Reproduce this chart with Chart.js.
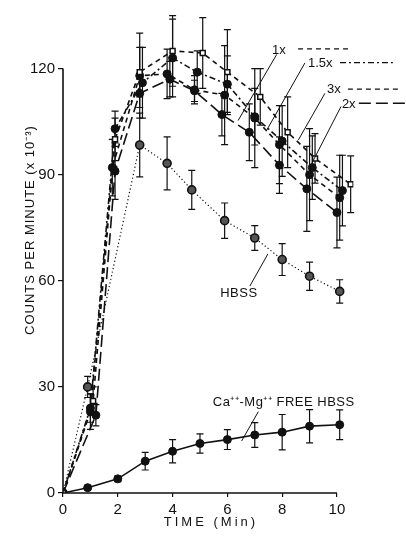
<!DOCTYPE html>
<html>
<head>
<meta charset="utf-8">
<script src="https://cdn.jsdelivr.net/npm/chart.js@4"></script>
<style>
  html, body { margin: 0; padding: 0; background: #fff; }
  #wrap { width: 406px; height: 539px; }
</style>
</head>
<body>
<div id="wrap"><canvas id="chart" width="406" height="539"></canvas></div>
<script>
// values: time (min) vs counts per minute (x10^-3)
const xTicks = [0, 2, 4, 6, 8, 10];
const yTicks = [0, 30, 60, 90, 120];

const time1x = [0, 1.1, 1.9, 2.8, 4.0, 5.1, 6.0, 7.2, 8.2, 9.2, 10.5];
const cpm1x  = [0, 26, 100, 119, 125, 124.4, 119, 112, 102, 94.6, 87.3];
const err1x  = [0, 4, 6, 7, 10, 10, 12, 8, 10, 7, 8];

const time15x = [0, 1.0, 1.9, 2.9, 4.0, 4.9, 6.0, 7.0, 8.0, 9.1, 10.2];
const cpm15x  = [0, 24, 103, 116, 123, 119, 115.6, 106.4, 99.5, 92, 85.5];
const err15x  = [0, 4, 5, 10, 11, 6, 8, 8, 10, 9, 10];

const time3x = [0, 1.0, 1.8, 2.8, 3.8, 4.8, 5.9, 7.0, 7.9, 9.0, 10.1];
const cpm3x  = [0, 23, 92, 118, 118.5, 114, 112.5, 106, 98.5, 90, 83.5];
const err3x  = [0, 5, 8, 12, 7, 4, 14, 14, 11, 13, 12];

const time2x = [0, 1.2, 1.9, 2.8, 3.9, 4.8, 5.8, 6.8, 7.9, 8.9, 10.0];
const cpm2x  = [0, 22, 91, 113, 117, 113.7, 107, 102, 92.7, 86, 79.3];
const err2x  = [0, 3, 8, 4, 5, 3, 6, 8, 8, 12, 10];

const timeHbss = [0, 0.9, 2.8, 3.8, 4.7, 5.9, 7.0, 8.0, 9.0, 10.1];
const cpmHbss  = [0, 30, 98.4, 93.2, 85.7, 77, 72.1, 66, 61.3, 57];
const errHbss  = [0, 3, 9, 7.5, 5.5, 5, 3.5, 4.5, 4, 3.3];

const timeFree = [0, 0.9, 2, 3, 4, 5, 6, 7, 8, 9, 10.1];
const cpmFree  = [0, 1.5, 4, 9, 11.8, 14, 15.1, 16.4, 17.2, 18.9, 19.3];
const errFree  = [0, 0.5, 0.8, 2.5, 3.3, 2.7, 2.8, 3.5, 5, 4.7, 4.2];

function pts(xs, ys) {
    return xs.map((x, i) => ({ x: x, y: ys[i] }));
}

const FONT = '"Liberation Sans", Arial, sans-serif';
const INK = '#111';

function series(xs, ys, errs, dash, opts) {
    return Object.assign({
        data: pts(xs, ys),
        errors: errs,
        showLine: true,
        borderColor: INK,
        borderWidth: 1.6,
        borderDash: dash,
        tension: 0,
        pointRadius: 4,
        pointBackgroundColor: INK,
        pointBorderColor: INK,
        pointBorderWidth: 1
    }, opts || {});
}

const decor = {
    id: 'decor',
    beforeDatasetsDraw(chart) {
        const ctx = chart.ctx;
        const xs = chart.scales.x, ys = chart.scales.y;
        ctx.save();
        ctx.strokeStyle = INK;
        ctx.lineWidth = 1.2;
        ctx.setLineDash([]);
        chart.data.datasets.forEach(ds => {
            ds.data.forEach((p, i) => {
                const e = ds.errors[i];
                if (!e) return;
                const px = xs.getPixelForValue(p.x);
                const top = ys.getPixelForValue(p.y + e);
                const bot = ys.getPixelForValue(p.y - e);
                ctx.beginPath();
                ctx.moveTo(px, top); ctx.lineTo(px, bot);
                ctx.moveTo(px - 3.5, top); ctx.lineTo(px + 3.5, top);
                ctx.moveTo(px - 3.5, bot); ctx.lineTo(px + 3.5, bot);
                ctx.stroke();
            });
        });
        ctx.restore();
    },
    afterDraw(chart) {
        const ctx = chart.ctx;
        const xs = chart.scales.x, ys = chart.scales.y;
        const X = v => xs.getPixelForValue(v);
        const Y = v => ys.getPixelForValue(v);
        ctx.save();
        ctx.strokeStyle = INK;
        ctx.fillStyle = INK;

        // axis lines, only 0..10 and 0..120
        ctx.lineWidth = 1.6;
        ctx.beginPath();
        ctx.moveTo(X(0), Y(120)); ctx.lineTo(X(0), Y(0)); ctx.lineTo(X(10), Y(0));
        ctx.stroke();

        // axis titles
        ctx.font = '13px ' + FONT;
        ctx.textBaseline = 'middle';
        ctx.textAlign = 'center';
        ctx.letterSpacing = '3px';
        ctx.fillText('TIME (Min)', X(5.4), 522);
        ctx.save();
        ctx.translate(30, 230);
        ctx.rotate(-Math.PI / 2);
        ctx.letterSpacing = '1px';
        ctx.fillText('COUNTS PER MINUTE (x 10\u207B\u00B3)', 0, 0);
        ctx.restore();
        ctx.letterSpacing = '0px';

        // series labels with line samples and leaders
        const labels = [
            { text: '1x',   tx: 7.63, ty: 125.0, s0: 8.58,  s1: 10.47, sy: 125.6, dash: [5, 4],         lead: [7.80, 124.0, 6.39, 105.3] },
            { text: '1.5x', tx: 8.94, ty: 121.5, s0: 10.11, s1: 12.04, sy: 121.7, dash: [6, 3, 2, 3],   lead: [8.83, 121.6, 7.43, 102.5] },
            { text: '3x',   tx: 9.64, ty: 114.2, s0: 10.40, s1: 12.23, sy: 114.2, dash: [5, 4],         lead: [9.56, 113.0, 8.59, 99.8] },
            { text: '2x',   tx: 10.18, ty: 110.0, s0: 10.80, s1: 14.8, sy: 110.2, dash: [12, 5],        lead: [10.15, 109.3, 9.08, 93.2] }
        ];
        ctx.textAlign = 'left';
        labels.forEach(l => {
            ctx.fillText(l.text, X(l.tx), Y(l.ty));
            ctx.lineWidth = 1.3;
            ctx.setLineDash(l.dash);
            ctx.beginPath();
            ctx.moveTo(X(l.s0), Y(l.sy)); ctx.lineTo(X(l.s1), Y(l.sy));
            ctx.stroke();
            ctx.setLineDash([]);
            ctx.lineWidth = 1;
            ctx.beginPath();
            ctx.moveTo(X(l.lead[0]), Y(l.lead[1])); ctx.lineTo(X(l.lead[2]), Y(l.lead[3]));
            ctx.stroke();
        });

        ctx.setLineDash([]);
        ctx.lineWidth = 1;
        ctx.textAlign = 'center';
        ctx.letterSpacing = '0.5px';
        ctx.fillText('HBSS', X(6.42), Y(56.3));
        ctx.beginPath();
        ctx.moveTo(X(6.82), Y(58.5)); ctx.lineTo(X(7.48), Y(67.6));
        ctx.stroke();

        ctx.textAlign = 'left';
        ctx.fillText('Ca\u207A\u207A-Mg\u207A\u207A FREE HBSS', X(5.47), Y(25.5));
        ctx.beginPath();
        ctx.moveTo(X(6.52), Y(14.7)); ctx.lineTo(X(7.13), Y(23.0));
        ctx.stroke();
        ctx.restore();
    }
};

new Chart(document.getElementById('chart'), {
    type: 'scatter',
    data: {
        datasets: [
            series(time1x, cpm1x, err1x, [5, 4], { pointStyle: 'rect', pointRadius: 3.5, pointBackgroundColor: '#fff', pointBorderWidth: 1.5 }),
            series(time15x, cpm15x, err15x, [6, 3, 2, 3]),
            series(time3x, cpm3x, err3x, [5, 4]),
            series(time2x, cpm2x, err2x, [12, 5]),
            series(timeHbss, cpmHbss, errHbss, [1.2, 2.5], { borderWidth: 1.2, pointBackgroundColor: '#555', pointBorderWidth: 1.6 }),
            series(timeFree, cpmFree, errFree, [])
        ]
    },
    options: {
        responsive: false,
        animation: false,
        devicePixelRatio: 1,
        layout: { padding: { left: 0, right: 52.6, top: 2, bottom: 0 } },
        plugins: { legend: { display: false }, tooltip: { enabled: false } },
        scales: {
            x: {
                type: 'linear',
                min: 0,
                max: 10.6,
                afterBuildTicks: s => { s.ticks = xTicks.map(v => ({ value: v })); },
                afterFit: s => { s.height = 46; },
                border: { display: false },
                grid: { drawOnChartArea: false, drawTicks: true, tickLength: 4, color: INK, lineWidth: 1.2 },
                ticks: { color: INK, padding: 4, font: { family: FONT, size: 15 } }
            },
            y: {
                type: 'linear',
                min: 0,
                max: 136,
                afterBuildTicks: s => { s.ticks = yTicks.map(v => ({ value: v })); },
                afterFit: s => { s.width = 63; },
                border: { display: false },
                grid: { drawOnChartArea: false, drawTicks: true, tickLength: 5, color: INK, lineWidth: 1.2 },
                ticks: { color: INK, padding: 3, font: { family: FONT, size: 15 } }
            }
        }
    },
    plugins: [decor]
});
</script>
</body>
</html>
